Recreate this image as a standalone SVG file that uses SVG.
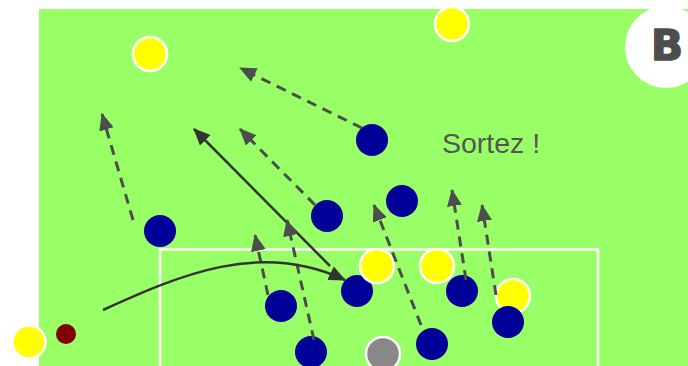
<svg xmlns="http://www.w3.org/2000/svg" width="688" height="366" viewBox="0 0 688 366">
<defs>
<style>
.y{fill:#ffff00;stroke:#fff;stroke-width:2.5}
.b{fill:#000099}
.g{fill:#888;stroke:#fff;stroke-width:2.5}
.d{fill:none;stroke:#4d4d4d;stroke-width:3;stroke-dasharray:10,7}
.s{fill:none;stroke:#333;stroke-width:2.5}
</style>
<marker id="ad" viewBox="0 0 17 15" markerWidth="17" markerHeight="15" refX="16" refY="7.5" orient="auto" markerUnits="userSpaceOnUse"><path d="M0,0 L17,7.5 L0,15 z" fill="#4d4d4d"/></marker>
<marker id="as" viewBox="0 0 17 15" markerWidth="17" markerHeight="15" refX="16" refY="7.5" orient="auto" markerUnits="userSpaceOnUse"><path d="M0,0 L17,7.5 L0,15 z" fill="#333"/></marker>
</defs>
<rect x="0" y="0" width="688" height="366" fill="#fff"/>
<rect x="39" y="9" width="649" height="357" fill="#99ff66"/>
<rect x="160" y="249.5" width="438" height="130" fill="none" stroke="#fff" stroke-width="2.5"/>
<g id="badge"><circle cx="666" cy="47" r="41" fill="#fff"/><text x="667" y="60" font-family="DejaVu Sans, sans-serif" font-weight="bold" font-size="42" fill="#4d4d4d" stroke="#4d4d4d" stroke-width="1.6" stroke-linejoin="round" text-anchor="middle">B</text></g>
<text id="label" x="442" y="153" font-family="Liberation Sans, Arial, sans-serif" font-size="28.5" fill="#555">Sortez !</text>
<g id="nodes">
<circle id="y1" class="y" cx="150" cy="54" r="17"/>
<circle id="y2" class="y" cx="452" cy="24" r="17"/>
<circle id="y3" class="y" cx="29" cy="342" r="16.5"/>
<circle id="y6" class="y" cx="513" cy="296" r="17"/>
<circle id="b1" class="b" cx="160" cy="231" r="16"/>
<circle id="b2" class="b" cx="281" cy="306" r="16"/>
<circle id="b3" class="b" cx="311" cy="352" r="16"/>
<circle id="b4" class="b" cx="327" cy="216" r="16"/>
<circle id="b5" class="b" cx="357" cy="291" r="16"/>
<circle id="b6" class="b" cx="402" cy="201" r="16"/>
<circle id="b7" class="b" cx="372" cy="140" r="16"/>
<circle id="b8" class="b" cx="432" cy="344" r="16"/>
<circle id="b9" class="b" cx="462" cy="291" r="16"/>
<circle id="b10" class="b" cx="508" cy="322" r="16"/>
<circle id="y4" class="y" cx="377" cy="266" r="17"/>
<circle id="y5" class="y" cx="437" cy="266" r="17"/>
<circle id="gk" class="g" cx="383" cy="354" r="17"/>
<circle id="ball" cx="66" cy="334" r="10" fill="#800000"/>
</g>
<g id="connectors">
<path class="d" d="M133,220 L102,114" marker-end="url(#ad)"/>
<path class="d" d="M362,128 L240,68" marker-end="url(#ad)"/>
<path class="s" d="M330,266 L194,129" marker-end="url(#as)"/>
<path class="d" d="M315,205 L240,129" marker-end="url(#ad)"/>
<path class="d" d="M268,295 L255,235" marker-end="url(#ad)"/>
<path class="d" d="M314,340 L287,220" marker-end="url(#ad)"/>
<path class="s" d="M103,310 C180,275 260,240 345,280" marker-end="url(#as)"/>
<path class="d" d="M421,325 L374,205" marker-end="url(#ad)"/>
<path class="d" d="M466,280 L452,190" marker-end="url(#ad)"/>
<path class="d" d="M496,295 L482,205" marker-end="url(#ad)"/>
</g>
</svg>
